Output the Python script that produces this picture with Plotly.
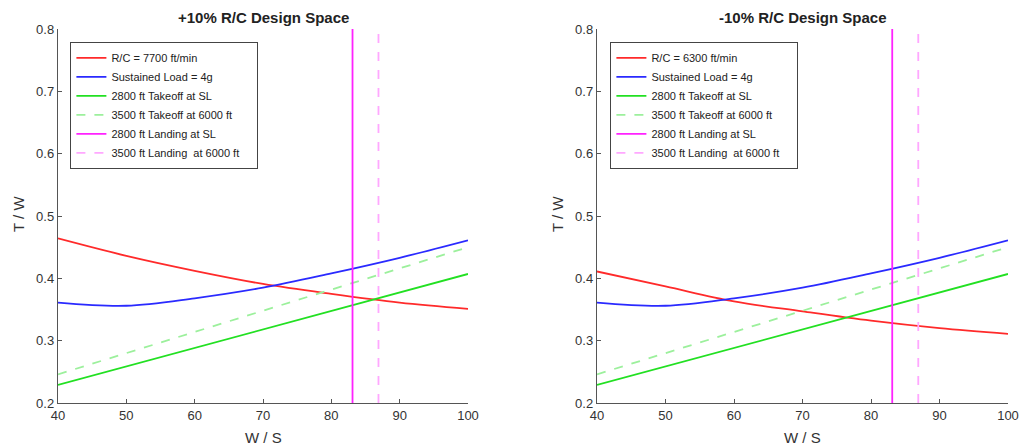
import plotly.graph_objects as go

# ---- data ----
ws = [40, 50, 60, 70, 80, 90, 100]
rc_plus = [0.464, 0.436, 0.412, 0.391, 0.375, 0.361, 0.351]     # R/C = 7700 ft/min
rc_minus = [0.411, 0.387, 0.363, 0.347, 0.332, 0.320, 0.311]    # R/C = 6300 ft/min
sustained = [0.361, 0.356, 0.368, 0.385, 0.408, 0.433, 0.461]   # Sustained load = 4g
takeoff_x = [40, 100]
takeoff_sl = [0.229, 0.407]
takeoff_6000 = [0.246, 0.450]
landing_sl_ws = 83.1
landing_6000_ws = 86.9
ty_range = [0.2, 0.8]

titles = ["+10% R/C Design Space", "-10% R/C Design Space"]
rc_names = ["R/C = 7700 ft/min", "R/C = 6300 ft/min"]
rc_data = [rc_plus, rc_minus]

W, H = 1020, 447
FONT = "Liberation Sans, Arial, sans-serif"

dom_x = [[58 / W, 468 / W], [597 / W, 1008 / W]]
dom_y = [1 - 403 / H, 1 - 29 / H]

fig = go.Figure()

LW = 1.8
PAD = "\u00a0" * 4
for i in range(2):
    xa = "x" if i == 0 else "x2"
    ya = "y" if i == 0 else "y2"
    lg = "legend" if i == 0 else "legend2"
    common = dict(xaxis=xa, yaxis=ya, legend=lg, mode="lines")
    fig.add_trace(go.Scatter(x=ws, y=rc_data[i], name=rc_names[i],
                             line=dict(color="#ff2a2a", width=LW, shape="spline"), **common))
    fig.add_trace(go.Scatter(x=ws, y=sustained, name="Sustained Load = 4g",
                             line=dict(color="#2a2aff", width=LW, shape="spline"), **common))
    fig.add_trace(go.Scatter(x=takeoff_x, y=takeoff_sl, name="2800 ft Takeoff at SL",
                             line=dict(color="#22e022", width=LW), **common))
    fig.add_trace(go.Scatter(x=takeoff_x, y=takeoff_6000, name="3500 ft Takeoff at 6000 ft",
                             line=dict(color="#9cf09c", width=LW, dash="dash"), **common))
    fig.add_trace(go.Scatter(x=[landing_sl_ws, landing_sl_ws], y=ty_range, name="2800 ft Landing at SL",
                             line=dict(color="#ff22ff", width=LW), **common))
    fig.add_trace(go.Scatter(x=[landing_6000_ws, landing_6000_ws], y=ty_range,
                             name="3500 ft Landing\u00a0 at 6000 ft" + PAD,
                             line=dict(color="#ffa8ff", width=LW, dash="dash"), **common))

axis_common = dict(showline=True, linecolor="#555", linewidth=1.4, ticks="inside", ticklen=4,
                   tickcolor="#555", showgrid=False, zeroline=False, mirror=False,
                   tickfont=dict(family=FONT, size=13, color="#333"))

layout = dict(
    width=W, height=H, margin=dict(l=0, r=0, t=0, b=0, autoexpand=False),
    paper_bgcolor="white", plot_bgcolor="white",
    font=dict(family=FONT, color="#333"),
    showlegend=True,
)
for i in range(2):
    sx = "" if i == 0 else "2"
    layout["xaxis" + sx] = dict(domain=dom_x[i], range=[40, 100], tickvals=ws,
                                anchor="y" + sx, automargin=False, **axis_common)
    layout["yaxis" + sx] = dict(domain=dom_y, range=ty_range, dtick=0.1, tick0=0.2,
                                tickformat=".1f", anchor="x" + sx, automargin=False, **axis_common)

legend_common = dict(font=dict(family=FONT, size=11, color="#222"), bgcolor="white",
                     bordercolor="#444", borderwidth=1.4, xanchor="left", yanchor="top",
                     tracegroupgap=0, itemwidth=30)
layout["legend"] = dict(x=70 / W, y=1 - 42 / H, **legend_common)
layout["legend2"] = dict(x=610 / W, y=1 - 42 / H, **legend_common)

annotations = []
for i in range(2):
    cx = (dom_x[i][0] + dom_x[i][1]) / 2
    annotations.append(dict(text="<b>" + titles[i] + "</b>", x=cx, y=1 - 17 / H, xref="paper",
                            yref="paper", showarrow=False, xanchor="center", yanchor="middle",
                            font=dict(family=FONT, size=15, color="#222")))
    annotations.append(dict(text="W / S", x=cx, y=1 - 437 / H, xref="paper", yref="paper",
                            showarrow=False, xanchor="center", yanchor="middle",
                            font=dict(family=FONT, size=15, color="#333")))
    annotations.append(dict(text="T / W", x=(dom_x[i][0] * W - 40) / W, y=1 - 214 / H,
                            xref="paper", yref="paper", showarrow=False, textangle=-90,
                            xanchor="center", yanchor="middle",
                            font=dict(family=FONT, size=15, color="#333")))
layout["annotations"] = annotations

fig.update_layout(**layout)
fig.write_html("out.html")
